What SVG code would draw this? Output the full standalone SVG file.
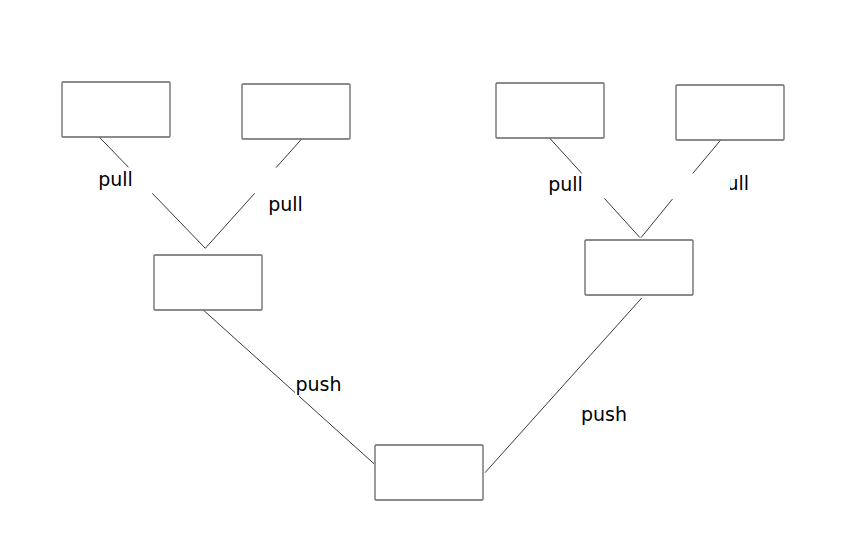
<svg xmlns="http://www.w3.org/2000/svg" width="845" height="545" viewBox="0 0 845 545">
  <style>
    .box { fill: #ffffff; stroke: #666666; stroke-width: 1.3; }
    .edge { fill: none; stroke: #222222; stroke-width: 0.9; }
    .lbl { font-family: "DejaVu Sans", "Liberation Sans", sans-serif; font-size: 19px; fill: #000000; }
  </style>
  <defs>
    <clipPath id="clipUll">
      <rect x="730" y="160" width="40" height="40"/>
    </clipPath>
  </defs>
  <rect x="0" y="0" width="845" height="545" fill="#ffffff"/>

  <g id="connectors">
    <polyline class="edge" points="97.7,135.5 128.5,167.3"/>
    <polyline class="edge" points="152.3,193.3 205.3,248.3"/>
    <polyline class="edge" points="301.7,139 276,167.7"/>
    <polyline class="edge" points="254.7,193.3 205.3,248.3"/>
    <polyline class="edge" points="203.3,310 295,392.6"/>
    <polyline class="edge" points="298.8,396 374.3,464"/>
    <polyline class="edge" points="547.7,136 581.7,173.3"/>
    <polyline class="edge" points="604.3,198.3 640,237.7"/>
    <polyline class="edge" points="720.7,140 692.7,173.5"/>
    <polyline class="edge" points="672.5,199 641,237.7"/>
    <polyline class="edge" points="641.7,298 485,472.7"/>
    <text class="lbl" x="98.2" y="186">pull</text>
    <text class="lbl" x="268.2" y="211">pull</text>
    <text class="lbl" x="295.5" y="390.5">push</text>
    <text class="lbl" x="548.2" y="191">pull</text>
    <text class="lbl" x="726.5" y="190" clip-path="url(#clipUll)">ull</text>
    <text class="lbl" x="581" y="421">push</text>
  </g>

  <g id="node-a"><rect class="box" x="62" y="82" width="108" height="55" rx="1"/></g>
  <g id="node-b"><rect class="box" x="242" y="84" width="108" height="55" rx="1"/></g>
  <g id="node-c"><rect class="box" x="154" y="255" width="108" height="55" rx="1"/></g>
  <g id="node-d"><rect class="box" x="496" y="83" width="108" height="55" rx="1"/></g>
  <g id="node-e"><rect class="box" x="676" y="85" width="108" height="55" rx="1"/></g>
  <g id="node-f"><rect class="box" x="585" y="240" width="108" height="55" rx="1"/></g>
  <g id="node-g"><rect class="box" x="375" y="445" width="108" height="55" rx="1"/></g>
</svg>
